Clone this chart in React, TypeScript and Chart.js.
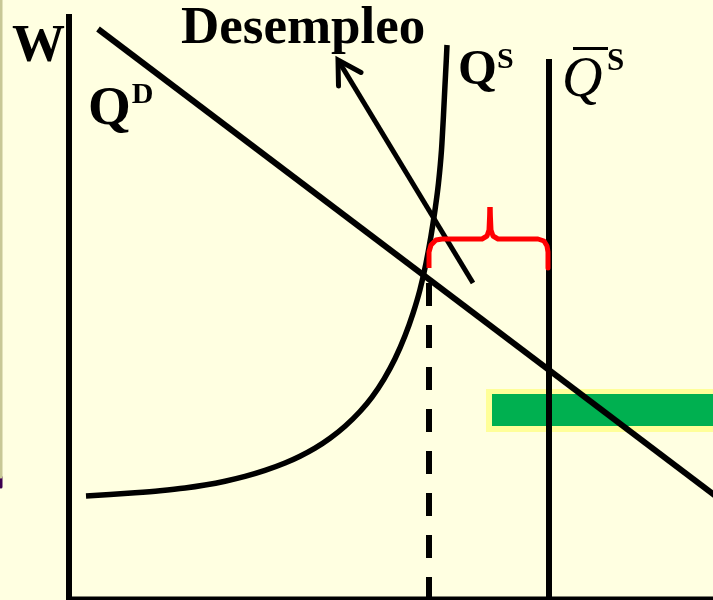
import React, { useEffect, useRef } from "react";
import { Chart, registerables } from "chart.js";

Chart.register(...registerables);

// Axis ranges (arbitrary units: Q = quantity of labour, W = wage)
const Q_RANGE = [-6.9, 64.4];
const W_RANGE = [-0.3, 59.7];

// Axes
const axisW = [{ x: 0, y: -0.5 }, { x: 0, y: 58.3 }];
const axisQ = [{ x: -0.3, y: -0.25 }, { x: 66, y: -0.25 }];

// Labour demand (straight line)
const demandQD = [{ x: 2.9, y: 56.8 }, { x: 66, y: 9.1 }];

// Labour supply curve QS
const supplyQS = [
  { x: 1.7, y: 10.1 }, { x: 4.1, y: 10.24 }, { x: 6.6, y: 10.42 }, { x: 9.1, y: 10.63 },
  { x: 11.6, y: 10.9 }, { x: 13.6, y: 11.2 }, { x: 15.6, y: 11.58 }, { x: 17.6, y: 12.06 },
  { x: 19.6, y: 12.66 }, { x: 21.6, y: 13.4 }, { x: 23.1, y: 14.08 }, { x: 24.6, y: 14.89 },
  { x: 26.1, y: 15.88 }, { x: 27.6, y: 17.08 }, { x: 29.1, y: 18.55 }, { x: 30.3, y: 19.99 },
  { x: 31.5, y: 21.79 }, { x: 32.6, y: 23.82 }, { x: 33.6, y: 26.12 }, { x: 34.4, y: 28.36 },
  { x: 35.1, y: 30.74 }, { x: 35.7, y: 33.38 }, { x: 36.2, y: 36.1 }, { x: 36.6, y: 38.7 },
  { x: 36.95, y: 41.4 }, { x: 37.25, y: 44.7 }, { x: 37.45, y: 48.2 }, { x: 37.6, y: 51.2 },
  { x: 37.73, y: 53.7 }, { x: 37.8, y: 55.2 },
];

// Total labour force (vertical)
const supplyBar = [{ x: 48.0, y: -0.5 }, { x: 48.0, y: 53.8 }];

// Employment level (dashed)
const employment = [{ x: 36.0, y: 31.4 }, { x: 36.0, y: -0.5 }];

// Red brace (unemployment gap)
const braceLeft = [
  { x: 36.0, y: 32.9 }, { x: 36.0, y: 34.5 }, { x: 36.2, y: 35.2 }, { x: 36.7, y: 35.7 },
  { x: 37.3, y: 35.8 }, { x: 41.3, y: 35.8 }, { x: 41.8, y: 36.1 }, { x: 42.0, y: 36.7 },
  { x: 42.1, y: 39.0 },
];
const braceRight = [
  { x: 42.1, y: 39.0 }, { x: 42.2, y: 36.7 }, { x: 42.4, y: 36.1 }, { x: 42.9, y: 35.8 },
  { x: 46.9, y: 35.8 }, { x: 47.5, y: 35.6 }, { x: 47.8, y: 35.1 }, { x: 47.9, y: 34.5 },
  { x: 47.9, y: 32.9 },
];

// Arrow pointing to "Desempleo"
const arrowShaft = [{ x: 40.4, y: 31.4 }, { x: 26.9, y: 53.7 }];
const arrowHead = [{ x: 26.95, y: 51.1 }, { x: 26.9, y: 53.7 }, { x: 29.2, y: 52.45 }];

// Green band
const bandOuter = [{ x: 41.7, y: 18.65 }, { x: 66, y: 18.65 }];
const bandInner = [{ x: 42.3, y: 18.7 }, { x: 66, y: 18.7 }];

// Left edge decoration
const edgeStrip = [{ x: -6.8, y: 59.7 }, { x: -6.8, y: 12.0 }];
const edgeMark = [{ x: -6.8, y: 12.0 }, { x: -6.8, y: 11.0 }];

// Text labels
const LABELS = [
  { text: "W", sup: "", q: -5.7, w: 53.6, size: 53, supSize: 30, rise: 0, gap: 0 },
  { text: "Q", sup: "D", q: 1.9, w: 47.3, size: 55, supSize: 30, rise: 21, gap: 1 },
  { text: "Desempleo", sup: "", q: 11.2, w: 55.4, size: 53, supSize: 30, rise: 0, gap: 0 },
  { text: "Q", sup: "S", q: 38.9, w: 51.3, size: 50, supSize: 30, rise: 16, gap: 0 },
];
const QBAR_LABEL = { text: "Q", sup: "S", q: 49.3, w: 50.1 };

const SERIF = '"Liberation Serif", "Times New Roman", serif';

function line(data: any[], color: string, width: number, extra: any = {}) {
  return {
    data,
    showLine: true,
    borderColor: color,
    backgroundColor: color,
    borderWidth: width,
    pointRadius: 0,
    pointHoverRadius: 0,
    fill: false,
    tension: 0,
    borderCapStyle: "butt",
    borderJoinStyle: "round",
    ...extra,
  };
}

const labelPlugin = {
  id: "labels",
  afterDatasetsDraw(chart: any) {
    const { ctx, scales } = chart;
    const xs = scales.x;
    const ys = scales.y;
    ctx.save();
    ctx.fillStyle = "#000";
    ctx.textBaseline = "alphabetic";
    ctx.textAlign = "left";
    for (const l of LABELS) {
      const px = xs.getPixelForValue(l.q);
      const py = ys.getPixelForValue(l.w);
      ctx.font = `bold ${l.size}px ${SERIF}`;
      ctx.fillText(l.text, px, py);
      if (l.sup) {
        const w = ctx.measureText(l.text).width;
        ctx.font = `bold ${l.supSize}px ${SERIF}`;
        ctx.fillText(l.sup, px + w + l.gap, py - l.rise);
      }
    }
    // Q-bar with S
    {
      const px = xs.getPixelForValue(QBAR_LABEL.q);
      const py = ys.getPixelForValue(QBAR_LABEL.w);
      ctx.font = `italic 56px ${SERIF}`;
      ctx.fillText(QBAR_LABEL.text, px, py);
      ctx.fillRect(px + 11, py - 49, 35, 3);
      ctx.font = `bold 31px ${SERIF}`;
      ctx.fillText(QBAR_LABEL.sup, px + 45, py - 26);
    }
    ctx.restore();
  },
};

export default function App() {
  const ref = useRef<HTMLCanvasElement | null>(null);

  useEffect(() => {
    document.body.style.margin = "0";
    const canvas = ref.current;
    if (!canvas) return;
    const chart = new Chart(canvas, {
      type: "scatter",
      data: {
        datasets: [
          line(braceLeft, "#FF0000", 5),
          line(braceRight, "#FF0000", 5),
          line(arrowHead, "#000000", 5, { borderJoinStyle: "miter", borderCapStyle: "round" }),
          line(arrowShaft, "#000000", 5),
          line(demandQD, "#000000", 6),
          line(supplyQS, "#000000", 5.5, { cubicInterpolationMode: "monotone" }),
          line(supplyBar, "#000000", 6),
          line(employment, "#000000", 6, { borderDash: [23, 19] }),
          line(axisW, "#000000", 6),
          line(axisQ, "#000000", 6),
          line(bandInner, "#00B050", 32),
          line(bandOuter, "#FFFF99", 43),
          line(edgeStrip, "#C8C896", 3),
          line(edgeMark, "#3C0050", 3),
        ] as any,
      },
      options: {
        animation: false,
        responsive: false,
        maintainAspectRatio: false,
        layout: { padding: 0 },
        plugins: { legend: { display: false }, tooltip: { enabled: false } },
        events: [],
        scales: {
          x: { type: "linear", min: Q_RANGE[0], max: Q_RANGE[1], display: false },
          y: { type: "linear", min: W_RANGE[0], max: W_RANGE[1], display: false },
        },
      } as any,
      plugins: [labelPlugin],
    });
    return () => chart.destroy();
  }, []);

  return (
    <div style={{ position: "fixed", left: 0, top: 0, width: 713, height: 600, background: "#FFFFE1" }}>
      <canvas ref={ref} width={713} height={600} style={{ display: "block" }} />
    </div>
  );
}
